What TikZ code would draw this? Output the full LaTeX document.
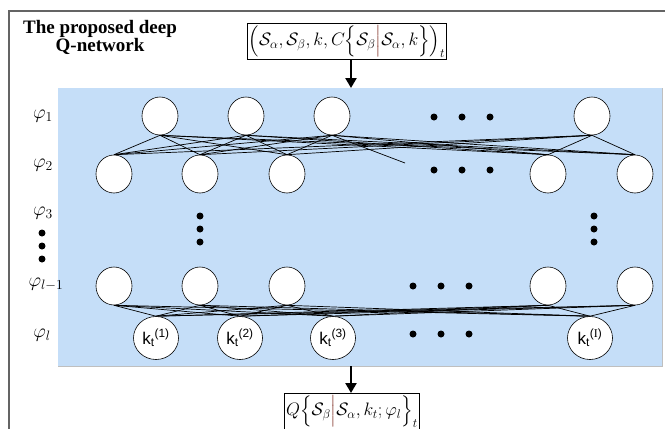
\RequirePackage{fix-cm}
\documentclass[tikz,border=0pt]{standalone}
\usepackage{fontspec}
\usepackage{amsmath}
\newfontfamily\arialfont{Liberation Sans}
\newfontfamily\timesfont{Liberation Serif}
\usetikzlibrary{arrows.meta,shapes.geometric}
\definecolor{bluefill}{RGB}{197,222,248}
\definecolor{framegray}{RGB}{100,100,100}
\definecolor{barbrown}{RGB}{130,50,40}
\pgfdeclarelayer{back}
\pgfdeclarelayer{edges}
\pgfsetlayers{back,edges,main}
\tikzset{
  neuron/.style={ellipse,draw,fill=white,line width=0.6pt,minimum width=36pt,minimum height=38pt,inner sep=0pt},
  knode/.style={ellipse,draw,fill=white,line width=0.6pt,minimum width=45pt,minimum height=43pt,inner sep=0pt,font=\arialfont\fontsize{17}{17}\selectfont},
  edge/.style={line width=0.7pt,black},
  bigdot/.style={circle,fill=black,minimum size=7pt,inner sep=0pt},
  flowarrow/.style={line width=2.4pt,-{Triangle[length=10pt,width=11pt]}},
  mathbox/.style={draw,line width=0.8pt,inner sep=1.5pt,font=\fontsize{18}{20}\selectfont},
  layerlabel/.style={font=\fontsize{19.5}{19.5}\selectfont},
}
\begin{document}
\begin{tikzpicture}[x=1pt,y=-1pt]
\useasboundingbox (0,0) rectangle (665,429);
\begin{pgfonlayer}{back}
\fill[white] (0,0) rectangle (665,429);
\draw[framegray,line width=1.8pt] (9,440) -- (9,11) -- (680,11);
\fill[bluefill] (58,88) rectangle (662,366);
\draw[black!25,line width=1pt] (58,366) -- (662,366) -- (662,88);
\end{pgfonlayer}

% title
\node[align=center,font=\timesfont\bfseries\fontsize{19}{18}\selectfont] (title) at (100,37) {The proposed deep\\Q-network};

% input / output boxes
\node[mathbox] (inbox) at (347,41.5) {$\Bigl(\mathcal{S}_{\alpha},\mathcal{S}_{\beta},k,C\Bigl\{\mathcal{S}_{\beta}{\color{barbrown}\Big|}\mathcal{S}_{\alpha},k\Bigr\}\Bigr)_{t}$};
\node[mathbox,anchor=north] (outbox) at (352,393) {$Q\Bigl\{\mathcal{S}_{\beta}{\color{barbrown}\Big|}\mathcal{S}_{\alpha},k_t;\varphi_l\Bigr\}_{t}$};

\coordinate (nettop) at (351,88);
\coordinate (netbot) at (351,366);
\draw[flowarrow] (inbox.south -| nettop) -- (nettop);
\draw[flowarrow] (netbot) -- (outbox.north -| netbot);

% layer labels
\node[layerlabel] (l1) at (43,116) {$\varphi_1$};
\node[layerlabel] (l2) at (43,165) {$\varphi_2$};
\node[layerlabel] (l3) at (43,213) {$\varphi_3$};
\node[bigdot] (ld1) at (42,233) {};
\node[bigdot] (ld2) at (42,246) {};
\node[bigdot] (ld3) at (42,259) {};
\node[layerlabel] (ll1) at (46,284) {$\varphi_{l-1}$};
\node[layerlabel] (ll) at (42,335) {$\varphi_l$};

% row 1
\node[neuron] (a1) at (160,116) {};
\node[neuron] (a2) at (246,116) {};
\node[neuron] (a3) at (332,116) {};
\node[neuron] (a4) at (592,116) {};
\node[bigdot] (ad1) at (434,117) {};
\node[bigdot] (ad2) at (462,117) {};
\node[bigdot] (ad3) at (490,117) {};

% row 2
\node[neuron] (b1) at (114,174) {};
\node[neuron] (b2) at (200,174) {};
\node[neuron] (b3) at (287,174) {};
\node[neuron] (b4) at (548,174) {};
\node[neuron] (b5) at (635,174) {};
\node[bigdot] (bd1) at (434,170) {};
\node[bigdot] (bd2) at (462,170) {};
\node[bigdot] (bd3) at (490,170) {};

% vertical dots
\node[bigdot] (v1) at (200,216) {};
\node[bigdot] (v2) at (200,229) {};
\node[bigdot] (v3) at (200,242) {};
\node[bigdot] (w1) at (594,216) {};
\node[bigdot] (w2) at (594,229) {};
\node[bigdot] (w3) at (594,242) {};

% row l-1
\node[neuron] (c1) at (114,286) {};
\node[neuron] (c2) at (200,286) {};
\node[neuron] (c3) at (287,286) {};
\node[neuron] (c4) at (548,286) {};
\node[neuron] (c5) at (635,286) {};
\node[bigdot] (cd1) at (413,286) {};
\node[bigdot] (cd2) at (441,286) {};
\node[bigdot] (cd3) at (469,286) {};

% row l
\node[knode] (k1) at (156,338) {k\textsubscript{t}\textsuperscript{(1)}};
\node[knode] (k2) at (240,338) {k\textsubscript{t}\textsuperscript{(2)}};
\node[knode] (k3) at (333,338) {k\textsubscript{t}\textsuperscript{(3)}};
\node[knode] (k4) at (590,338) {k\textsubscript{t}\textsuperscript{({\timesfont I})}};
\node[bigdot] (kd1) at (413,334) {};
\node[bigdot] (kd2) at (441,334) {};
\node[bigdot] (kd3) at (469,334) {};

\coordinate (stray) at (405,163);

\begin{pgfonlayer}{edges}
\foreach \i in {1,...,4}{
  \foreach \j in {1,...,5}{
    \draw[edge] (a\i.south) -- (b\j.north);
    \draw[edge] (c\j.south) -- (k\i.north);
  }
}
\draw[edge] (a3.south) -- (stray);
\end{pgfonlayer}
\end{tikzpicture}
\end{document}
